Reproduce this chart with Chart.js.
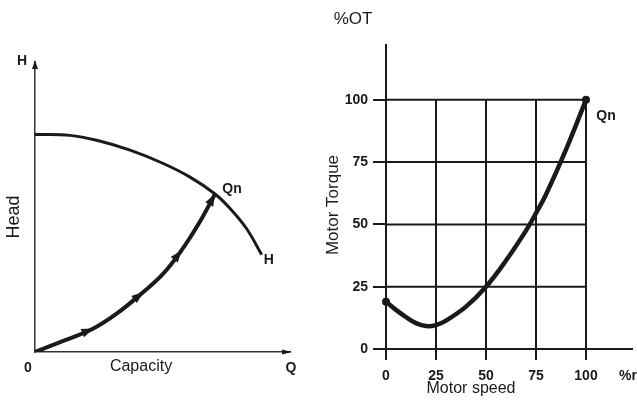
<!DOCTYPE html>
<html><head><meta charset="utf-8">
<script src="https://cdn.jsdelivr.net/npm/chart.js@4"></script>
<style>
html,body{margin:0;padding:0;background:#fff;}
#wrap{position:relative;width:637px;height:409px;background:#fff;}
canvas{position:absolute;left:0;top:0;}
</style></head><body>
<div id="wrap"><canvas id="c1" width="637" height="409"></canvas><canvas id="c2" width="637" height="409"></canvas></div>
<script>
// ---- Left panel: pump head curve and system curve (relative units, % of axis) ----
const headQ = [0, 13.7, 24.2, 37.3, 50.3, 60.8, 70.6, 76.5, 83, 88.9];
const headH = [75, 74.7, 73, 69.6, 65, 60.3, 54.5, 49.5, 42.5, 33.5];
const systemQ = [0, 11.1, 22.9, 32, 42.5, 50.3, 57.5, 64.7, 70.6];
const systemH = [0, 3.8, 8.1, 13.2, 20.7, 27, 35.1, 45, 54.5];
const systemArrowIdx = [2, 4, 6, 8];

// ---- Right panel: motor torque vs motor speed ----
const speedTicks = [0, 25, 50, 75, 100];
const torqueTicks = [0, 25, 50, 75, 100];
const speed = [0, 5, 10, 15, 20, 25, 30, 40, 50, 60, 70, 75, 80, 90, 100];
const torque = [19, 15.7, 12.8, 10.4, 9.2, 9.6, 11.4, 17, 25, 35.5, 47.5, 54.5, 62, 80, 100];

const INK = '#1a1a1a';
const SANS = '"Liberation Sans", Arial, sans-serif';

function pts(xs, ys){ return xs.map((v,i)=>({x:v, y:ys[i]})); }

function arrowHead(ctx, x, y, ang, len, wid){
  ctx.save();
  ctx.translate(x, y); ctx.rotate(ang);
  ctx.beginPath();
  ctx.moveTo(0,0); ctx.lineTo(-len, -wid/2); ctx.lineTo(-len, wid/2); ctx.closePath();
  ctx.fill();
  ctx.restore();
}

const leftDecor = {
  id: 'leftDecor',
  afterDraw(chart){
    const {ctx, chartArea:a} = chart;
    ctx.save();
    ctx.fillStyle = INK;
    arrowHead(ctx, a.left, a.top - 2, -Math.PI/2, 9, 6);
    arrowHead(ctx, a.right + 2, a.bottom, 0, 10, 5);
    const meta = chart.getDatasetMeta(1);
    systemArrowIdx.forEach(i=>{
      const p = meta.data[i], q = meta.data[i-1];
      const ang = Math.atan2(p.y - q.y, p.x - q.x);
      arrowHead(ctx, p.x, p.y, ang, 12, 9);
    });
    ctx.textAlign = 'center'; ctx.textBaseline = 'middle';
    ctx.font = 'bold 14px ' + SANS;
    ctx.fillText('H', a.left - 13, a.top - 1);
    ctx.fillText('0', a.left - 7, a.bottom + 16);
    ctx.fillText('Q', a.right + 1, a.bottom + 16);
    const qn = meta.data[meta.data.length-1];
    ctx.fillText('Qn', qn.x + 17, qn.y - 5);
    const hm = chart.getDatasetMeta(0).data;
    const he = hm[hm.length-1];
    ctx.fillText('H', he.x + 7, he.y + 5);
    ctx.font = '16px ' + SANS;
    ctx.fillText('Capacity', a.left + 106, a.bottom + 15);
    ctx.save();
    ctx.translate(14, 217); ctx.rotate(-Math.PI/2);
    ctx.font = '18px ' + SANS;
    ctx.fillText('Head', 0, 0);
    ctx.restore();
    ctx.restore();
  }
};

new Chart(document.getElementById('c1'), {
  type: 'scatter',
  data: { datasets: [
    { data: pts(headQ, headH), showLine: true, borderColor: INK, borderWidth: 3,
      pointRadius: 0, tension: 0.4 },
    { data: pts(systemQ, systemH), showLine: true, borderColor: INK, borderWidth: 4,
      pointRadius: 0, tension: 0.4 }
  ]},
  options: {
    responsive: false, animation: false,
    layout: { padding: { left: 0, top: 62, right: 637 - 290, bottom: 0 } },
    plugins: { legend: { display: false }, tooltip: { enabled: false } },
    scales: {
      x: { type: 'linear', min: 0, max: 100, ticks: { display: false },
           grid: { display: false }, border: { display: true, color: '#333', width: 1.5 },
           afterFit(s){ s.height = 409 - 352; } },
      y: { type: 'linear', min: 0, max: 100, ticks: { display: false },
           grid: { display: false }, border: { display: true, color: '#333', width: 1.5 },
           afterFit(s){ s.width = 35; } }
    }
  },
  plugins: [leftDecor]
});

const rightDecor = {
  id: 'rightDecor',
  beforeDatasetsDraw(chart){
    const {ctx, scales:{x, y}} = chart;
    const x0 = x.getPixelForValue(speedTicks[0]);
    const xr = x.getPixelForValue(speedTicks[speedTicks.length-1]);
    const y0 = y.getPixelForValue(torqueTicks[0]);
    const yt = y.getPixelForValue(torqueTicks[torqueTicks.length-1]);
    ctx.save();
    ctx.strokeStyle = INK; ctx.lineWidth = 2;
    torqueTicks.slice(1).forEach(v=>{
      const py = y.getPixelForValue(v);
      ctx.beginPath(); ctx.moveTo(x0, py); ctx.lineTo(xr, py); ctx.stroke();
    });
    speedTicks.slice(1).forEach(v=>{
      const px = x.getPixelForValue(v);
      ctx.beginPath(); ctx.moveTo(px, y0); ctx.lineTo(px, yt); ctx.stroke();
    });
    ctx.restore();
  },
  afterDraw(chart){
    const {ctx, scales:{x, y}} = chart;
    ctx.save();
    ctx.fillStyle = INK; ctx.textAlign = 'center'; ctx.textBaseline = 'middle';
    ctx.font = '17px ' + SANS;
    ctx.fillText('%OT', 353, 19);
    ctx.font = '16px ' + SANS;
    ctx.fillText('Motor speed', 471, 389);
    ctx.font = 'bold 14px ' + SANS;
    ctx.fillText('%r', 628, 376);
    ctx.fillText('Qn', x.getPixelForValue(100) + 20, y.getPixelForValue(100) + 16);
    ctx.save();
    ctx.translate(333, 205); ctx.rotate(-Math.PI/2);
    ctx.font = '17px ' + SANS;
    ctx.fillText('Motor Torque', 0, 0);
    ctx.restore();
    ctx.restore();
  }
};

const tickFont = { family: SANS, size: 14, weight: 'bold' };
new Chart(document.getElementById('c2'), {
  type: 'scatter',
  data: { datasets: [
    { data: pts(speed, torque), showLine: true, borderColor: INK, borderWidth: 4.5,
      tension: 0.4, clip: false,
      pointRadius: speed.map((v,i)=> (i===0 || i===speed.length-1) ? 4 : 0),
      pointBackgroundColor: INK, pointBorderColor: INK, pointBorderWidth: 0 }
  ]},
  options: {
    responsive: false, animation: false,
    layout: { padding: { left: 320, top: 45, right: 5, bottom: 0 } },
    plugins: { legend: { display: false }, tooltip: { enabled: false } },
    scales: {
      x: { type: 'linear', min: 0, max: 123,
           afterBuildTicks(s){ s.ticks = speedTicks.map(v=>({value:v})); },
           ticks: { font: tickFont, color: INK, padding: 8, maxRotation: 0 },
           grid: { drawOnChartArea: false, drawTicks: true, tickLength: 11, color: INK, lineWidth: 2 },
           border: { display: true, color: INK, width: 2 },
           afterFit(s){ s.height = 409 - 349; } },
      y: { type: 'linear', min: 0, max: 122,
           afterBuildTicks(s){ s.ticks = torqueTicks.map(v=>({value:v})); },
           ticks: { font: tickFont, color: INK, padding: 5 },
           grid: { drawOnChartArea: false, drawTicks: true, tickLength: 13, color: INK, lineWidth: 2 },
           border: { display: true, color: INK, width: 2 },
           afterFit(s){ s.width = 66; } }
    }
  },
  plugins: [rightDecor]
});
</script>
</body></html>
